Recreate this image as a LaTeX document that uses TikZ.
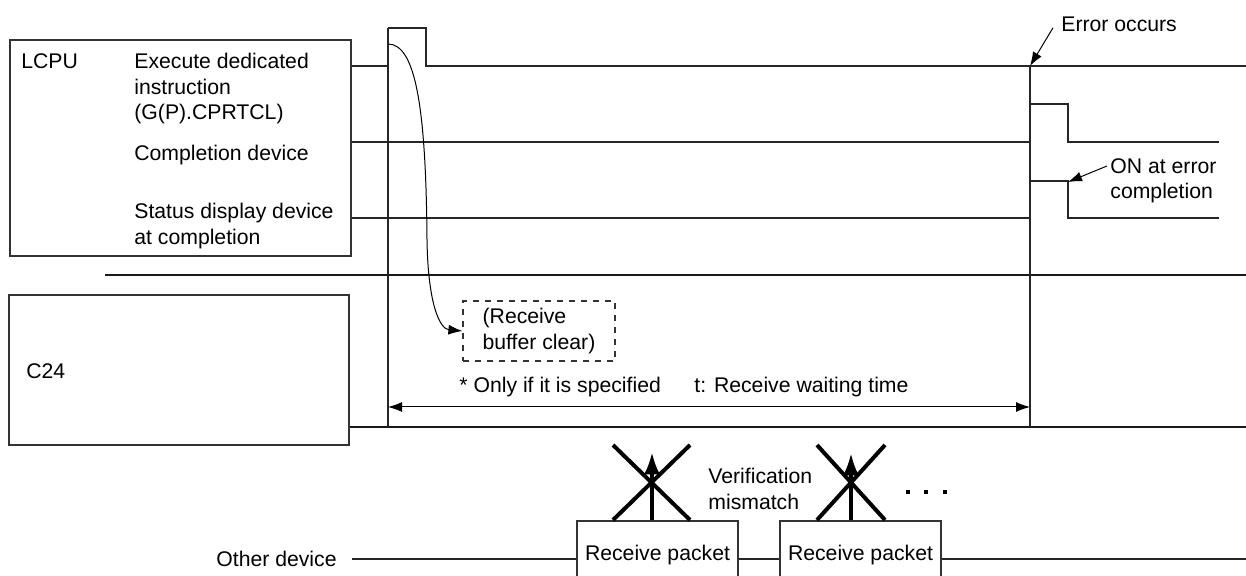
\documentclass[tikz,border=0pt]{standalone}
\usepackage{fontspec}
\setmainfont{Liberation Sans}
\usetikzlibrary{positioning,arrows.meta}

\begin{document}
\begin{tikzpicture}[
    x=0.5pt, y=-0.5pt,
    font=\fontsize{10.6}{12.8}\selectfont,
    frame/.style={
        draw=black!80,
        line width=0.6pt,
        inner sep=0pt
    },
    sig/.style={draw=black!85, line width=0.6pt},
    rule/.style={draw=black!90, line width=1.3pt},
    lbl/.style={anchor=north west, inner sep=0pt, align=left},
    arrow/.style={-{Latex[length=7pt,width=5pt]}, line width=0.5pt},
    tarrow/.style={{Latex[length=7pt,width=5pt]}-{Latex[length=7pt,width=5pt]}, line width=0.5pt},
    uparrow/.style={-{Latex[length=11pt,width=8pt]}, line width=1.6pt},
    cross/.style={line width=2pt},
    packet/.style={
        draw=black!80,
        line width=0.6pt,
        minimum width=80.5pt,
        minimum height=34pt
    },
    clearbox/.style={
        draw=black!80,
        dashed,
        line width=0.6pt,
        align=left,
        minimum width=76pt,
        minimum height=30pt
    }
]
\useasboundingbox (0,0) rectangle (1246,576);
\clip (0,0) rectangle (1246,576);

% station frames
\node[frame, minimum width=170.5pt, minimum height=108pt] (lcpubox) at (180.5,148) {};
\node[frame, minimum width=170pt, minimum height=75pt] (c24box) at (179,370) {};

\node[lbl] (lcpu) at (21,53) {LCPU};
\node[lbl] (exec) at (134,53) {Execute dedicated\\instruction\\(G(P).CPRTCL)};
\node[lbl] (comp) at (134,145) {Completion device};
\node[lbl] (stat) at (134,203) {Status display device\\at completion};
\node[lbl] (c24) at (26,363) {C24};

% separators
\draw[rule] (105,275) -- (1246,275);
\draw[rule] (c24box.east |- 0,427) -- (1246,427);

% signals
\draw[sig] (lcpubox.east |- 0,66) -- (388,66);
\draw[sig] (388,28) -- (426,28) -- (426,66) -- (1246,66);
\draw[sig] (388,28) -- (388,427);
\draw[sig] (1030,66) -- (1030,427);

\draw[sig] (lcpubox.east |- 0,142) -- (1030,142);
\draw[sig] (1030,104) -- (1068,104) -- (1068,142) -- (1219,142);

\draw[sig] (lcpubox.east |- 0,218) -- (1030,218);
\draw[sig] (1030,181) -- (1068,181) -- (1068,218) -- (1219,218);

% error
\node[lbl] (err) at (1061,17) {Error occurs};
\coordinate (errpt) at (1030,66);
\draw[arrow] ([xshift=-4pt,yshift=-1.5pt]err.west) -- (errpt);

\node[lbl] (onerr) at (1110,158) {ON at error\\completion};
\coordinate (onpt) at (1068,182);
\draw[arrow] ([xshift=-1.5pt,yshift=-4pt]onerr.north west) -- (onpt);

% receive buffer clear
\node[clearbox] (rbc) at (539,331) {(Receive\\buffer clear)};
\coordinate (trig) at (388,44);
\draw[arrow] (trig) .. controls (416,44) and (426,110) .. (427,240)
    .. controls (428,305) and (440,329) .. (rbc.west);

\node[lbl] (note) at (459,377) {* Only if it is specified};
\node[lbl] (twait) at (694,377) {t: Receive waiting time};
\coordinate (tstart) at (388,407);
\coordinate (tend) at (1030,407);
\draw[tarrow] (tstart) -- (tend);

% other device
\node[anchor=east, inner xsep=7.5pt, inner ysep=0pt] (other) at (352,559) {Other device};
\node[packet] (pkt1) at (657.5,555) {Receive packet};
\node[packet] (pkt2) at (860.5,555) {Receive packet};

\draw[sig, line width=0.9pt] (other.east) -- (other.east -| pkt1.west);
\draw[sig, line width=0.9pt] (other.east -| pkt1.east) -- (other.east -| pkt2.west);
\draw[sig, line width=0.9pt] (other.east -| pkt2.east) -- (1246,559);

\draw[uparrow] ([xshift=-2.75pt]pkt1.north) -- ++(0,-68);
\draw[cross] (613,445) -- (690,520) (613,520) -- (690,445);
\draw[uparrow] ([xshift=-4.75pt]pkt2.north) -- ++(0,-67);
\draw[cross] (817,445) -- (885,520) (817,520) -- (885,445);

\node[lbl] (mism) at (708,468) {Verification\\mismatch};

\foreach \dx in {908,926,945}
    \fill (\dx-2,490) rectangle ++(4,4);

\end{tikzpicture}
\end{document}
